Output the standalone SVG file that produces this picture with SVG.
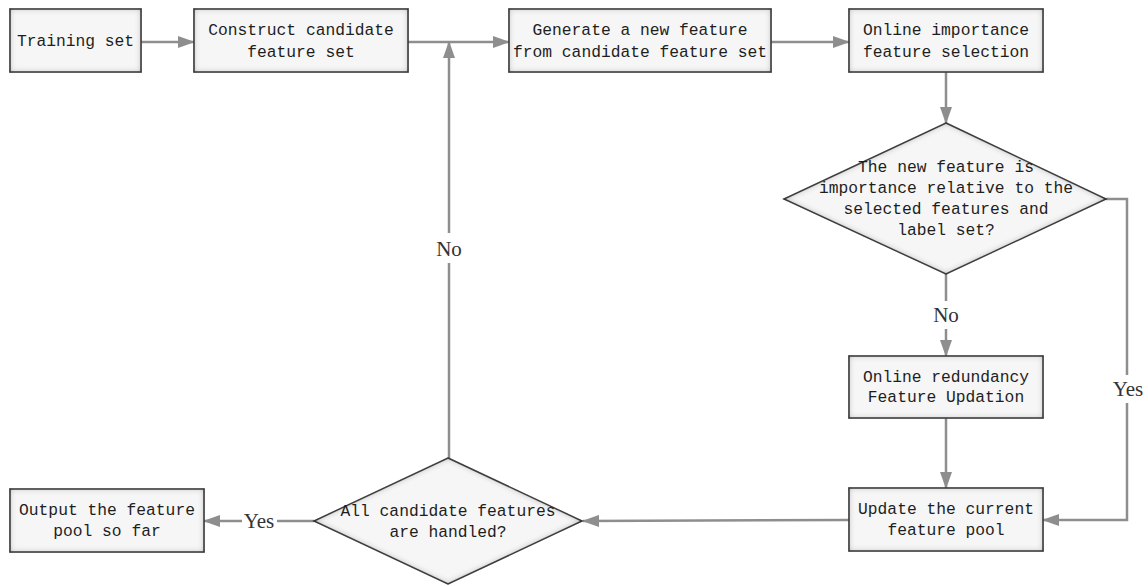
<svg xmlns="http://www.w3.org/2000/svg" width="1148" height="586" viewBox="0 0 1148 586">
<defs>
<style>
.box{fill:#f6f6f6;stroke:#4a4a4a;stroke-width:1.6;filter:url(#inset)}
.dia{fill:#f6f6f6;stroke:#4a4a4a;stroke-width:1.4;filter:url(#inset)}
.t{font-family:"Liberation Mono",monospace;font-size:16.3px;fill:#1e1e1e;text-anchor:middle;dominant-baseline:central}
.lbl{font-family:"Liberation Serif",serif;font-size:21px;fill:#333;text-anchor:middle;dominant-baseline:central}
.c{fill:none;stroke:#8e8e8e;stroke-width:2.5}
.ca{fill:none;stroke:#8e8e8e;stroke-width:2.5;marker-end:url(#ah)}
</style>
<marker id="ah" viewBox="0 0 17 12" refX="16" refY="6" markerWidth="17" markerHeight="12" markerUnits="userSpaceOnUse" orient="auto">
<path d="M0,0 L17,6 L0,12 z" fill="#8e8e8e"/>
</marker>
<filter id="inset" x="-5%" y="-5%" width="110%" height="110%">
<feFlood flood-color="#000" flood-opacity="0.7" result="f"/>
<feComposite in="f" in2="SourceAlpha" operator="out" result="o"/>
<feGaussianBlur in="o" stdDeviation="3" result="b"/>
<feComposite in="b" in2="SourceAlpha" operator="in" result="s"/>
<feMerge><feMergeNode in="SourceGraphic"/><feMergeNode in="s"/></feMerge>
</filter>
</defs>

<g id="connectors">
<line class="ca" x1="141" y1="42" x2="194" y2="42"/>
<line class="ca" x1="408" y1="42" x2="509" y2="42"/>
<line class="ca" x1="771" y1="42" x2="849" y2="42"/>
<line class="ca" x1="946" y1="72" x2="946" y2="123"/>
<line class="c" x1="946" y1="274" x2="946" y2="301"/>
<line class="ca" x1="946" y1="329" x2="946" y2="356"/>
<line class="ca" x1="946" y1="418" x2="946" y2="488"/>
<polyline class="c" points="1106,199 1127,199 1127,375"/>
<polyline class="ca" points="1127,403 1127,520 1043,520"/>
<line class="ca" x1="849" y1="520" x2="583" y2="521"/>
<line class="c" x1="314" y1="521" x2="277" y2="521"/>
<line class="ca" x1="242" y1="521" x2="204" y2="521"/>
<line class="c" x1="449" y1="458" x2="449" y2="263"/>
<line class="ca" x1="449" y1="233" x2="449" y2="42"/>
<text class="lbl" x="946" y="315">No</text>
<text class="lbl" x="1128" y="389">Yes</text>
<text class="lbl" x="259" y="521">Yes</text>
<text class="lbl" x="449" y="249">No</text>
</g>

<g id="n1">
<rect class="box" x="10" y="9" width="131" height="63"/>
<text class="t" x="75.5" y="41">Training set</text>
</g>
<g id="n2">
<rect class="box" x="194" y="9" width="214" height="63"/>
<text class="t" x="301" y="30">Construct candidate</text>
<text class="t" x="301" y="52">feature set</text>
</g>
<g id="n3">
<rect class="box" x="509" y="9" width="262" height="63"/>
<text class="t" x="640" y="30">Generate a new feature</text>
<text class="t" x="640" y="52">from candidate feature set</text>
</g>
<g id="n4">
<rect class="box" x="849" y="9" width="194" height="63"/>
<text class="t" x="946" y="30">Online importance</text>
<text class="t" x="946" y="52">feature selection</text>
</g>
<g id="n5">
<polygon class="dia" points="946,123 1106,199 946,274 784,199"/>
<text class="t" x="946" y="167.5">The new feature is</text>
<text class="t" x="946" y="188.5">importance relative to the</text>
<text class="t" x="946" y="209.5">selected features and</text>
<text class="t" x="946" y="230.5">label set?</text>
</g>
<g id="n6">
<rect class="box" x="849" y="356" width="194" height="62"/>
<text class="t" x="946" y="377">Online redundancy</text>
<text class="t" x="946" y="397">Feature Updation</text>
</g>
<g id="n7">
<rect class="box" x="849" y="488" width="194" height="63"/>
<text class="t" x="946" y="509">Update the current</text>
<text class="t" x="946" y="530">feature pool</text>
</g>
<g id="n8">
<polygon class="dia" points="448,458 582,521 448,584 314,521"/>
<text class="t" x="448" y="511">All candidate features</text>
<text class="t" x="448" y="532">are handled?</text>
</g>
<g id="n9">
<rect class="box" x="10" y="489" width="194" height="63"/>
<text class="t" x="107" y="510">Output the feature</text>
<text class="t" x="107" y="531">pool so far</text>
</g>
</svg>
